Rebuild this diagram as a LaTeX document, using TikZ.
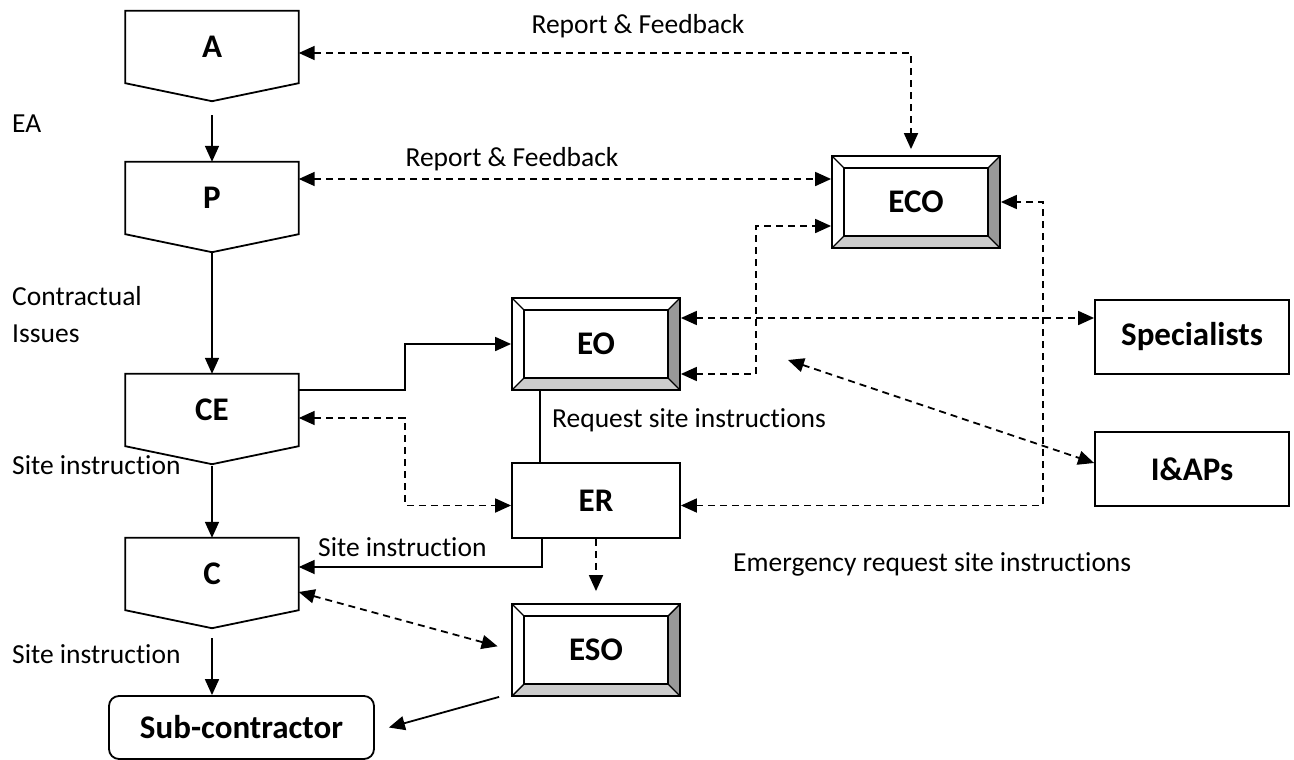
\documentclass[tikz,border=0pt]{standalone}
\usepackage{fontspec}
\setmainfont{Carlito}[Ligatures=NoCommon]
\usetikzlibrary{arrows.meta}

\definecolor{bevdark}{HTML}{999999}
\definecolor{bevlight}{HTML}{CCCCCC}

\tikzset{
  lbl/.style={font=\fontsize{27.5}{37}\selectfont, inner sep=0pt, anchor=base west},
  ttl/.style={font=\bfseries\fontsize{33}{33}\selectfont},
  offpg/.style={ttl, inner sep=0pt, minimum width=173pt, minimum height=72pt},
  plain/.style={ttl, draw, line width=1.8pt, minimum width=194pt, minimum height=74pt},
  bevel/.style={ttl, draw, line width=1.8pt, minimum width=168pt, minimum height=92pt,
    path picture={
      \path (path picture bounding box.south west) coordinate (bsw)
            (path picture bounding box.north east) coordinate (bne);
      \fill[white] (bsw) rectangle (bne);
      \fill[bevdark] (bne) -- ++(-12pt,-12pt) -- ([shift={(-12pt,12pt)}]bne |- bsw) -- (bne |- bsw) -- cycle;
      \fill[bevlight] (bsw) -- ++(12pt,12pt) -- ([shift={(-12pt,12pt)}]bne |- bsw) -- (bne |- bsw) -- cycle;
      \draw[line width=1.4pt] ([shift={(12pt,12pt)}]bsw) rectangle ([shift={(-12pt,-12pt)}]bne);
      \draw[line width=1.4pt] (bsw) -- ++(12pt,12pt) (bne) -- ++(-12pt,-12pt)
            (bne |- bsw) -- ++(-12pt,12pt) (bsw |- bne) -- ++(12pt,-12pt);
    }},
  conn/.style={line width=1.8pt, -{Triangle[length=16pt,width=14pt]}},
  dconn/.style={line width=1.8pt, dash pattern=on 7pt off 5pt,
    {Triangle[length=16pt,width=14pt]}-{Triangle[length=16pt,width=14pt]}},
}

\newcommand{\offpagebox}[4]{%
  \node[offpg] (#1) at (#2,#3) {#4};
  \draw[line width=1.8pt] (#1.north west) -- (#1.north east) -- (#1.south east)
    -- ([yshift=-18pt]#1.south) coordinate (#1tip) -- (#1.south west) -- cycle;}

\begin{document}
\begin{tikzpicture}[x=1pt,y=-1pt]
  \useasboundingbox (0,0) rectangle (1294,760);

  % left column
  \offpagebox{A}{212}{47}{A}
  \offpagebox{P}{212}{198}{P}
  \offpagebox{CE}{212}{410}{CE}
  \offpagebox{C}{212}{574}{C}
  \node[ttl, draw, line width=1.8pt, rounded corners=10pt, minimum width=265pt,
        minimum height=63pt] (sub) at (241.5,727.5) {Sub-contractor};

  % officers
  \node[bevel] (EO)  at (596,344) {EO};
  \node[bevel] (ECO) at (916,202) {ECO};
  \node[bevel] (ESO) at (596,650) {ESO};
  \node[ttl, draw, line width=1.8pt, minimum width=168pt, minimum height=75pt] (ER) at (596,500.5) {ER};
  \node[plain] (spec) at (1192,337) {Specialists};
  \node[plain] (iap)  at (1192,469) {I\&APs};

  % bends and free ends
  \coordinate (j1) at (405,0);
  \coordinate (j2) at (756,0);
  \coordinate (j3) at (1043,0);
  \coordinate (fr) at (788,360);
  \coordinate (pr) at ([yshift=19pt]P.east);
  \coordinate (erw) at ([yshift=-5pt]ER.west);
  \coordinate (ere) at ([yshift=-5pt]ER.east);
  \coordinate (ecol) at ([yshift=-24pt]ECO.west);

  % solid connectors
  \draw[conn] ([yshift=-14pt]Atip) -- (P);
  \draw[conn] (Ptip) -- (CE);
  \draw[conn] ([yshift=-2pt]CEtip) -- (C);
  \draw[conn] ([yshift=-10pt]Ctip) -- (Ctip |- sub.north);
  \draw[conn] ([yshift=20pt]CE.east) -| (j1 |- EO.west) -- (EO.west);
  \draw[line width=1.8pt] ([xshift=-56pt]EO.south) -- ([xshift=-56pt]ER.north);
  \draw[conn] ([xshift=-54pt]ER.south) |- ([yshift=7pt]C.east);
  \draw[conn] ([xshift=-12pt]ESO.south west) -- ([xshift=14pt]sub.east);

  % dashed connectors
  \draw[dconn, shorten >=6pt] ([yshift=-6pt]A.east) -| ([xshift=-5pt]ECO.north);
  \draw[dconn] (pr) -- (pr -| ECO.west);
  \draw[dconn] ([yshift=-8pt]CE.east) -| (j1 |- erw) -- (erw);
  \draw[dconn] ([yshift=-30pt]EO.east) -| (j2 |- ecol) -- (ecol);
  \draw[dconn] ([yshift=26pt]EO.east) -- ([yshift=26pt]EO.east -| spec.west);
  \draw[dconn] (ere) -| (j3 |- ECO.east) -- (ECO.east);
  \draw[dconn] (fr) -- ([yshift=6pt]iap.west);
  \draw[dconn, -{Triangle[length=16pt,width=14pt]}, shorten >=12pt] (ER.south) -- (ESO.north);
  \draw[dconn, shorten >=14pt] ([yshift=-18pt]C.east) -- (ESO.west);

  % texts
  \begin{scope}[every node/.style={lbl}]
    \node (t1) at (12,132) {EA};
    \node (t2) at (12,305) {Contractual};
    \node (t3) at (12,342) {Issues};
    \node (t4) at (12,474) {Site instruction};
    \node (t5) at (12,663) {Site instruction};
    \node (t6) at (318,556) {Site instruction};
    \node (t7) at (552,427) {Request site instructions};
    \node (t8) at (733,571) {Emergency request site instructions};
    \node[anchor=base] (t9) at (638,34) {Report \& Feedback};
    \node[anchor=base] (t10) at (512,166) {Report \& Feedback};
  \end{scope}
\end{tikzpicture}
\end{document}
